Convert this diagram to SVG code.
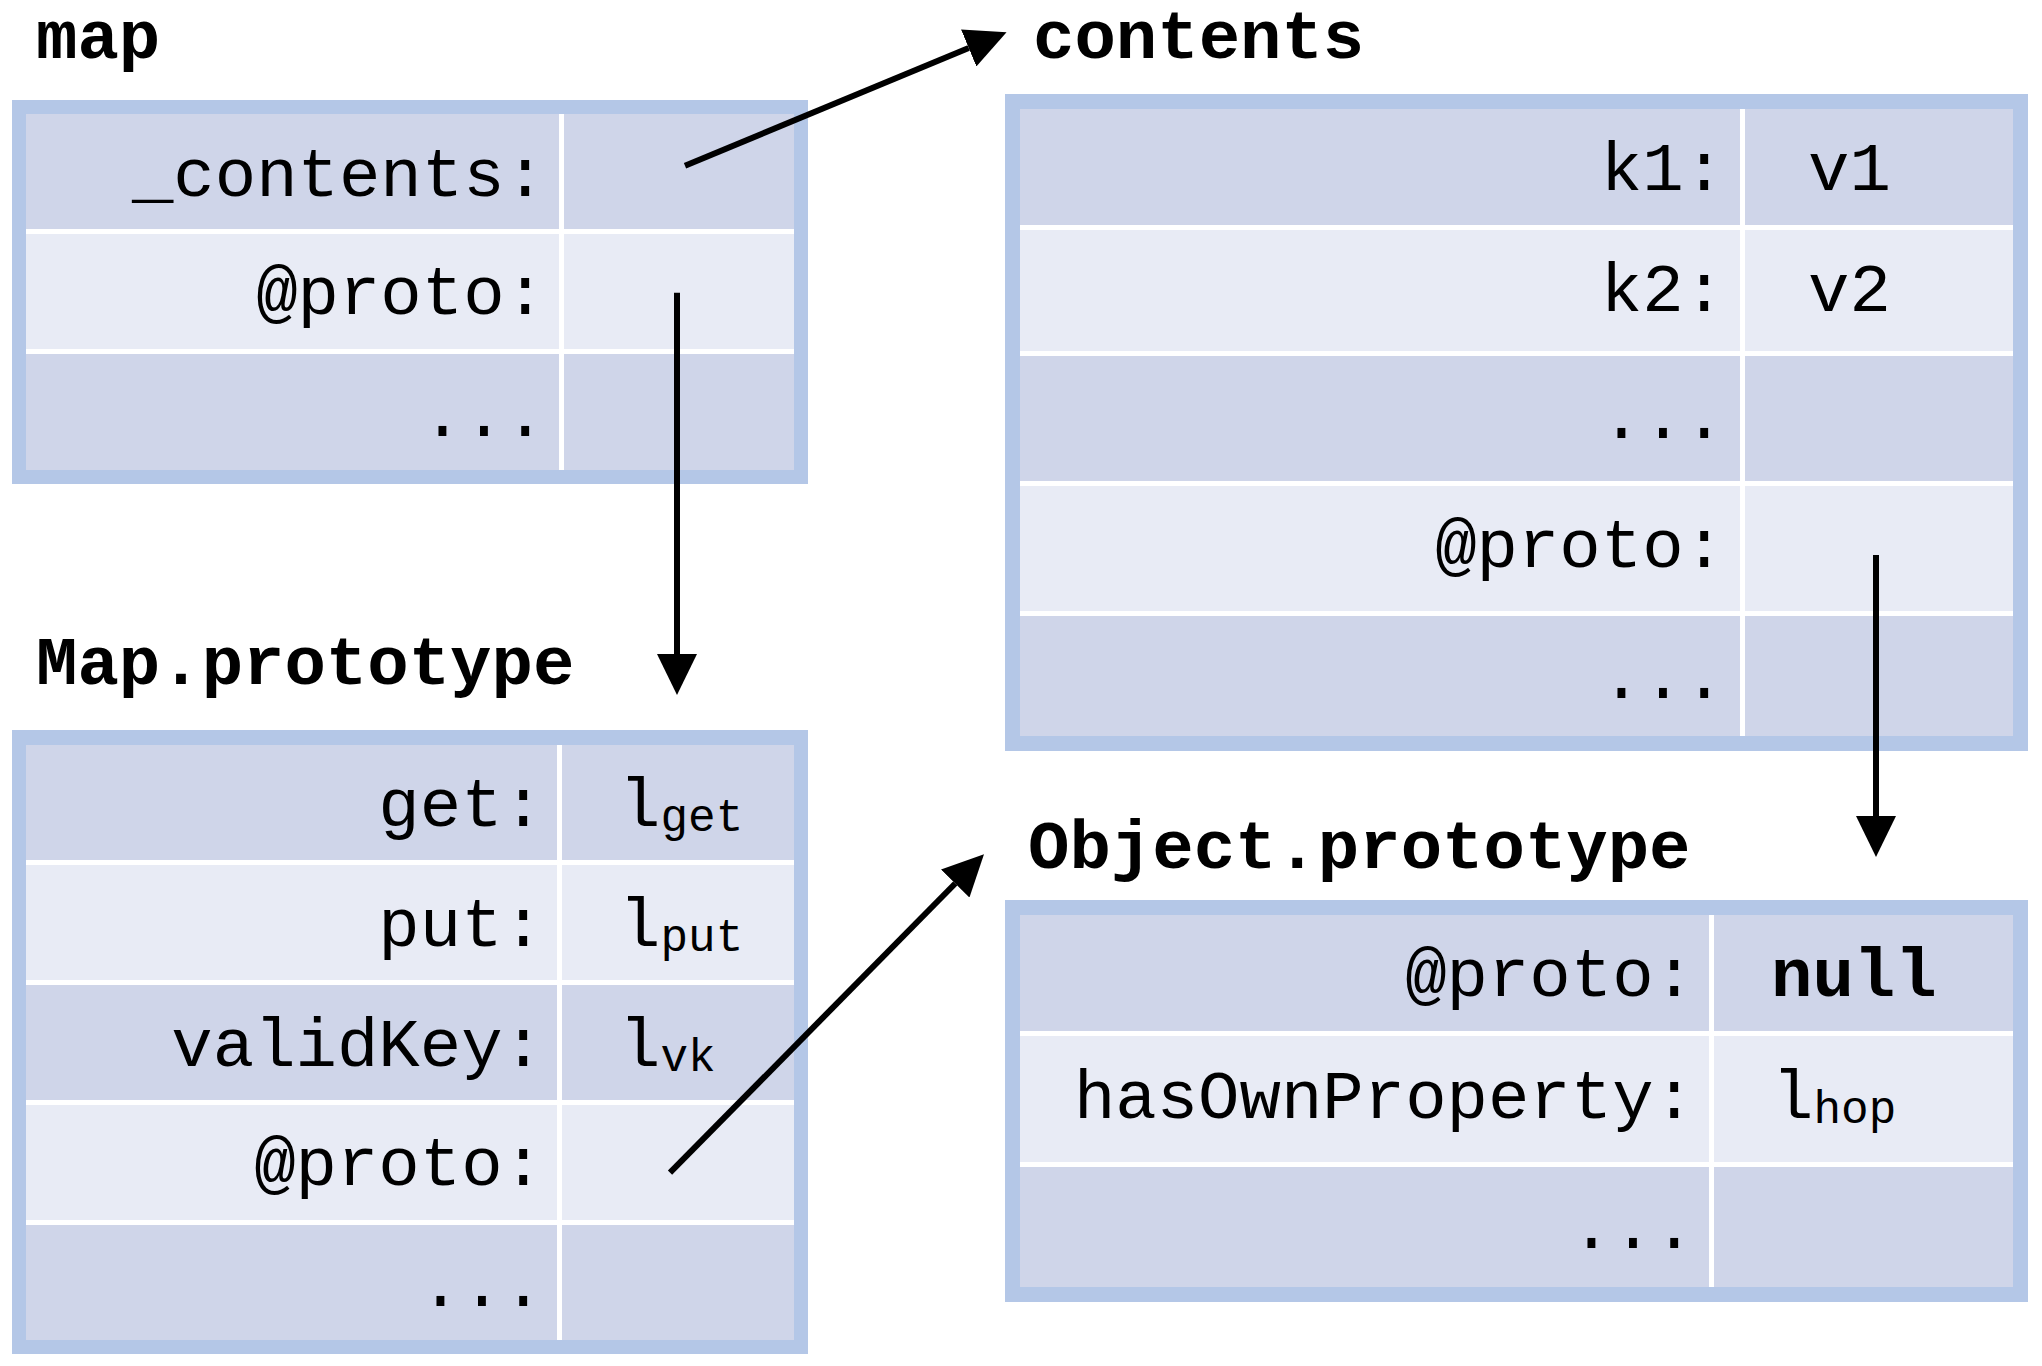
<svg xmlns="http://www.w3.org/2000/svg" width="2042" height="1366" viewBox="0 0 2042 1366">
<defs>
<style>
.frame{fill:#B4C7E7}
.gap{fill:#FFFFFF}
.dark{fill:#CFD5E9}
.light{fill:#E8EBF5}
text{font-family:"Liberation Mono","DejaVu Sans Mono",monospace;fill:#000}
.title{font-size:69px;font-weight:bold}
.key{font-size:69px;text-anchor:end}
.val{font-size:69px}
.sub{font-size:46px}
.bold{font-weight:bold}
.conn{stroke:#000;stroke-width:6;fill:none}
</style>
<marker id="arrow" markerUnits="userSpaceOnUse" markerWidth="42" markerHeight="40" refX="0" refY="20" orient="auto" viewBox="0 0 42 40">
<path d="M0,0 L41,20 L0,40 Z" fill="#000"/>
</marker>
</defs>
<rect width="2042" height="1366" fill="#FFFFFF"/>

<g id="map">
<text class="title" x="36" y="58">map</text>
<rect class="frame" x="12" y="100" width="796" height="384"/>
<rect class="gap" x="26" y="114" width="768" height="356"/>
<rect class="dark" x="26" y="114" width="533" height="115"/>
<rect class="dark" x="564" y="114" width="230" height="115"/>
<rect class="light" x="26" y="234" width="533" height="115"/>
<rect class="light" x="564" y="234" width="230" height="115"/>
<rect class="dark" x="26" y="354" width="533" height="116"/>
<rect class="dark" x="564" y="354" width="230" height="116"/>
<text class="key" x="546" y="196">_contents:</text>
<text class="key" x="546" y="314">@proto:</text>
<text class="key" x="546" y="436">...</text>
</g>

<g id="map-prototype">
<text class="title" x="36" y="684">Map.prototype</text>
<rect class="frame" x="12" y="730" width="796" height="624"/>
<rect class="gap" x="26" y="745" width="768" height="595"/>
<rect class="dark" x="26" y="745" width="531" height="115"/>
<rect class="dark" x="562" y="745" width="232" height="115"/>
<rect class="light" x="26" y="865" width="531" height="115"/>
<rect class="light" x="562" y="865" width="232" height="115"/>
<rect class="dark" x="26" y="985" width="531" height="115"/>
<rect class="dark" x="562" y="985" width="232" height="115"/>
<rect class="light" x="26" y="1105" width="531" height="115"/>
<rect class="light" x="562" y="1105" width="232" height="115"/>
<rect class="dark" x="26" y="1225" width="531" height="115"/>
<rect class="dark" x="562" y="1225" width="232" height="115"/>
<text class="key" x="544" y="826">get:</text>
<text class="key" x="544" y="946">put:</text>
<text class="key" x="544" y="1066">validKey:</text>
<text class="key" x="544" y="1185">@proto:</text>
<text class="key" x="544" y="1306">...</text>
<text class="val" x="619" y="826">l<tspan class="sub" dy="5">get</tspan></text>
<text class="val" x="619" y="946">l<tspan class="sub" dy="5">put</tspan></text>
<text class="val" x="619" y="1066">l<tspan class="sub" dy="5">vk</tspan></text>
</g>

<g id="contents">
<text class="title" x="1033" y="58">contents</text>
<rect class="frame" x="1005" y="94" width="1023" height="657"/>
<rect class="gap" x="1020" y="109" width="993" height="627"/>
<rect class="dark" x="1020" y="109" width="720" height="116"/>
<rect class="dark" x="1745" y="109" width="268" height="116"/>
<rect class="light" x="1020" y="230" width="720" height="121"/>
<rect class="light" x="1745" y="230" width="268" height="121"/>
<rect class="dark" x="1020" y="356" width="720" height="125"/>
<rect class="dark" x="1745" y="356" width="268" height="125"/>
<rect class="light" x="1020" y="486" width="720" height="125"/>
<rect class="light" x="1745" y="486" width="268" height="125"/>
<rect class="dark" x="1020" y="616" width="720" height="120"/>
<rect class="dark" x="1745" y="616" width="268" height="120"/>
<text class="key" x="1725" y="190">k1:</text>
<text class="key" x="1725" y="311">k2:</text>
<text class="key" x="1725" y="438">...</text>
<text class="key" x="1725" y="567">@proto:</text>
<text class="key" x="1725" y="698">...</text>
<text class="val" x="1808" y="190">v1</text>
<text class="val" x="1808" y="311">v2</text>
</g>

<g id="object-prototype">
<text class="title" x="1028" y="868">Object.prototype</text>
<rect class="frame" x="1005" y="900" width="1023" height="402"/>
<rect class="gap" x="1020" y="915" width="993" height="372"/>
<rect class="dark" x="1020" y="915" width="689" height="116"/>
<rect class="dark" x="1714" y="915" width="299" height="116"/>
<rect class="light" x="1020" y="1036" width="689" height="126"/>
<rect class="light" x="1714" y="1036" width="299" height="126"/>
<rect class="dark" x="1020" y="1167" width="689" height="120"/>
<rect class="dark" x="1714" y="1167" width="299" height="120"/>
<text class="key" x="1695" y="996">@proto:</text>
<text class="key" x="1695" y="1118">hasOwnProperty:</text>
<text class="key" x="1695" y="1248">...</text>
<text class="val bold" x="1771" y="996">null</text>
<text class="val" x="1772" y="1118">l<tspan class="sub" dy="5">hop</tspan></text>
</g>

<g id="connectors">
<line class="conn" x1="685" y1="165.7" x2="968.7" y2="48" marker-end="url(#arrow)"/>
<line class="conn" x1="677" y1="292.7" x2="677" y2="654" marker-end="url(#arrow)"/>
<line class="conn" x1="670" y1="1172.7" x2="955.2" y2="883.5" marker-end="url(#arrow)"/>
<line class="conn" x1="1876" y1="555" x2="1876" y2="816" marker-end="url(#arrow)"/>
</g>
</svg>
